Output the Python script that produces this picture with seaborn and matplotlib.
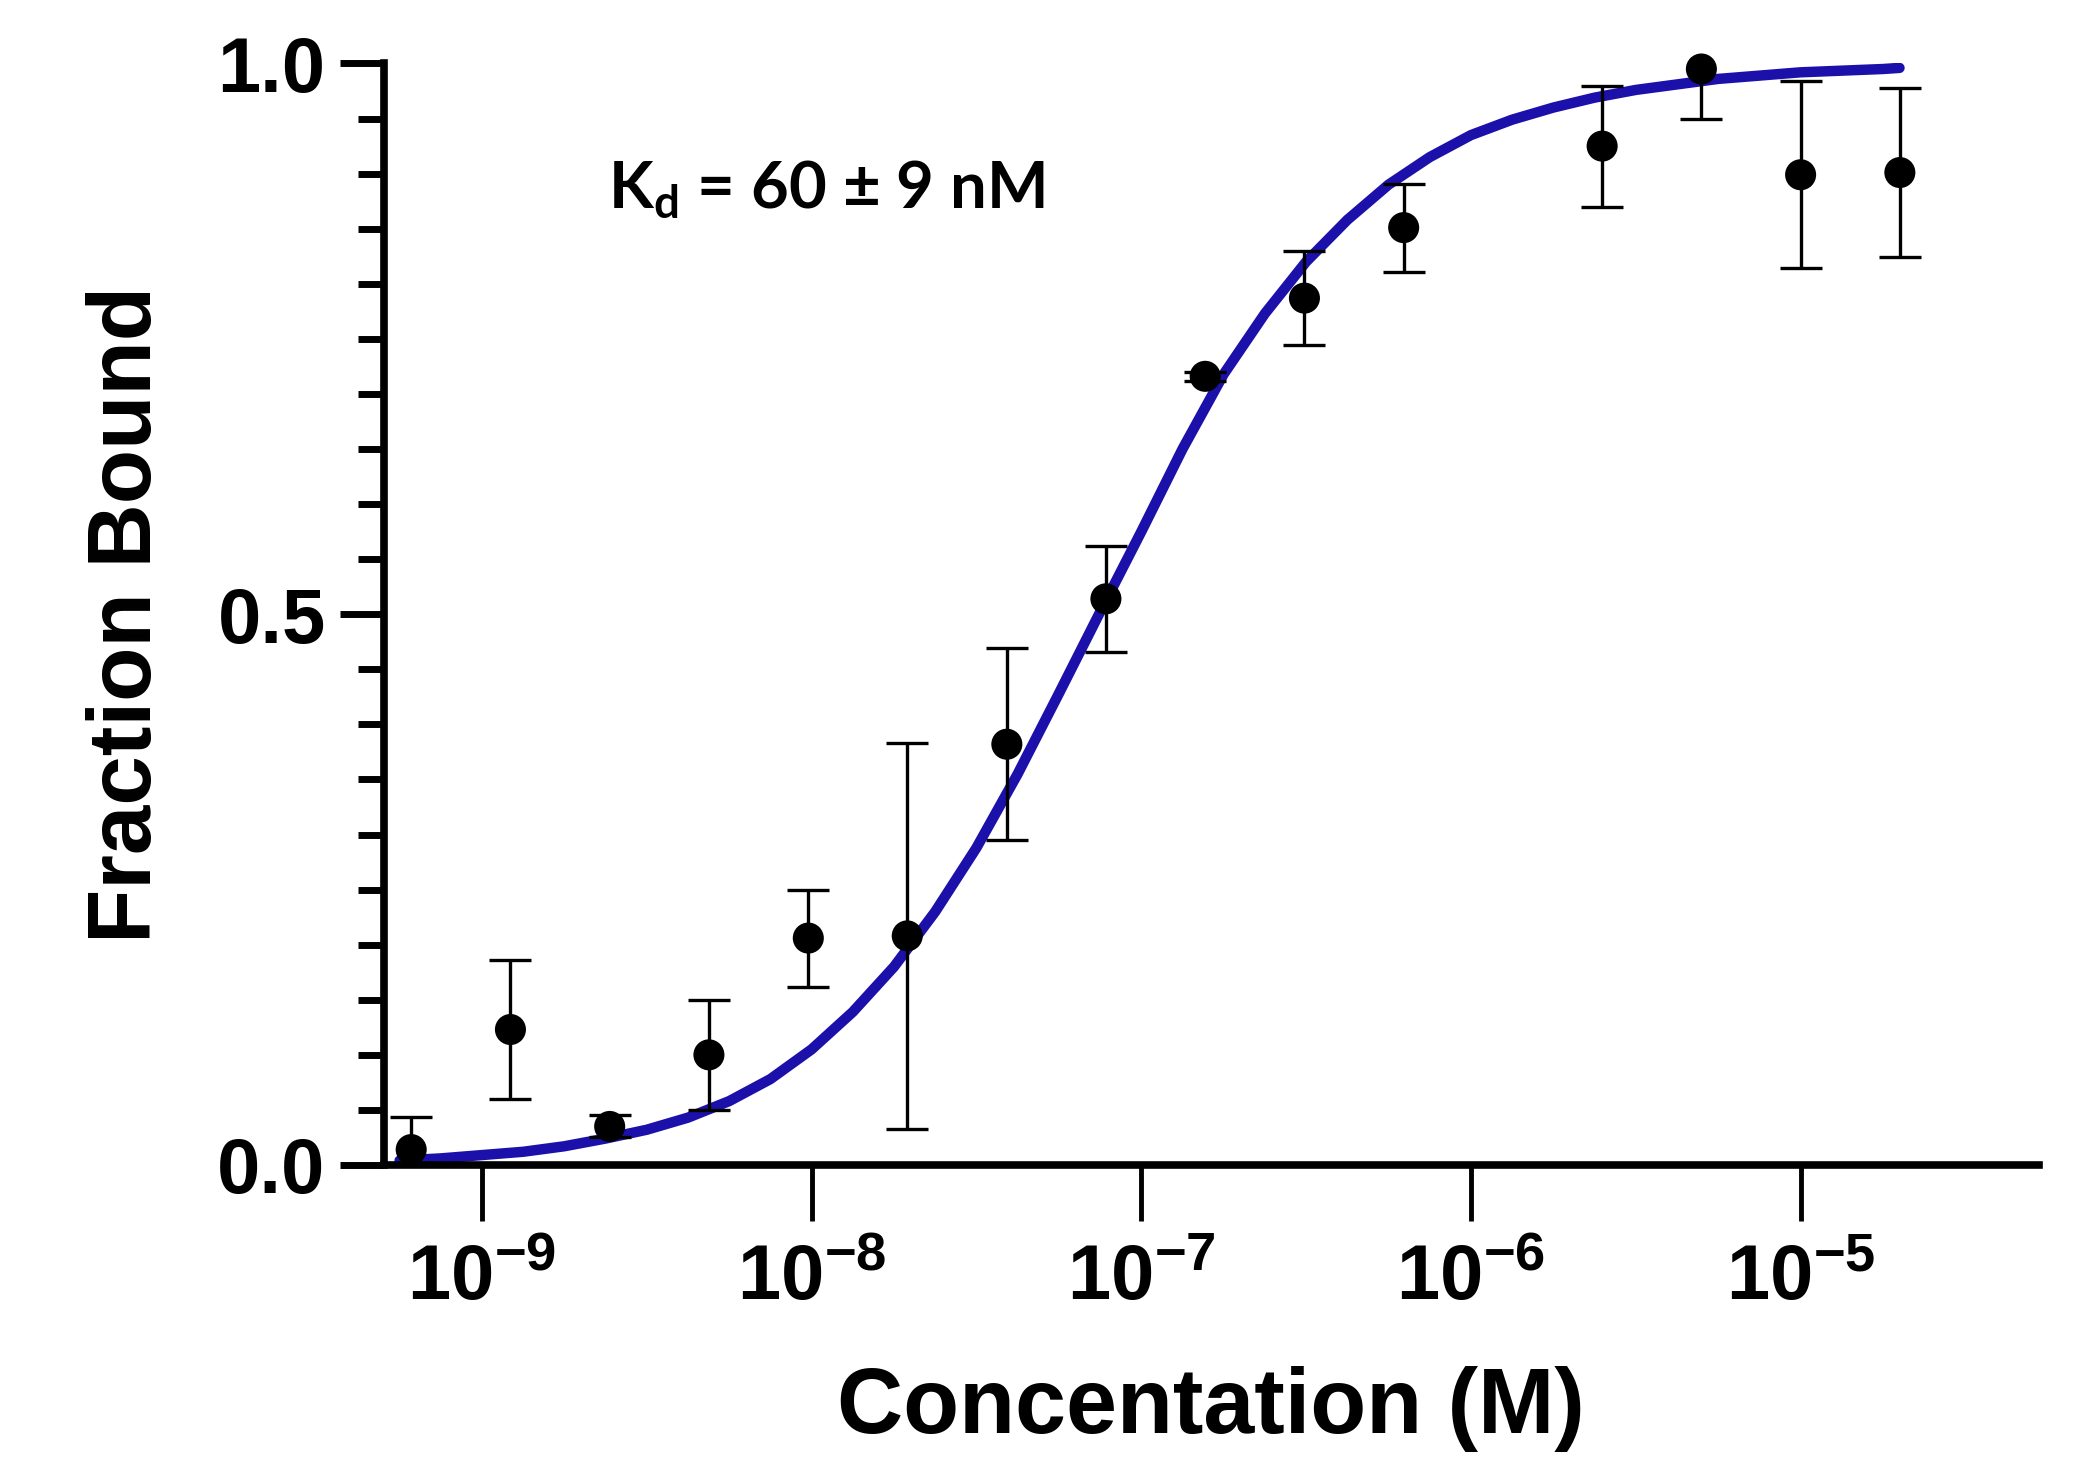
import numpy as np
import pandas as pd
import matplotlib
matplotlib.use("Agg")
import matplotlib.pyplot as plt
import seaborn as sns

# binding data: 2-fold dilution series (M), fraction bound, SD
conc = [6.10e-10, 1.22e-9, 2.44e-9, 4.88e-9, 9.77e-9, 1.95e-8, 3.91e-8, 7.81e-8,
        1.5625e-7, 3.125e-7, 6.25e-7, 2.5e-6, 5.0e-6, 1.0e-5, 2.0e-5]
frac = [0.014, 0.123, 0.035, 0.100, 0.206, 0.208, 0.382, 0.514,
        0.716, 0.787, 0.851, 0.925, 0.995, 0.899, 0.901]
sd = [0.030, 0.063, 0.010, 0.050, 0.044, 0.175, 0.087, 0.048,
      0.004, 0.043, 0.040, 0.055, 0.045, 0.085, 0.077]

# fitted curve (log10 M, fraction bound)
curve_logc = [-9.25, -9.125, -9.0, -8.875, -8.75, -8.625, -8.5, -8.375, -8.25, -8.125,
              -8.0, -7.875, -7.75, -7.625, -7.5, -7.375, -7.25, -7.125, -7.0, -6.875,
              -6.75, -6.625, -6.5, -6.375, -6.25, -6.125, -6.0, -5.875, -5.75, -5.625,
              -5.5, -5.25, -5.0, -4.75, -4.70]
curve_frac = [0.004, 0.006, 0.009, 0.012, 0.017, 0.024, 0.032, 0.043, 0.058, 0.078,
              0.105, 0.139, 0.180, 0.230, 0.288, 0.355, 0.428, 0.502, 0.575, 0.650,
              0.718, 0.773, 0.820, 0.858, 0.890, 0.915, 0.935, 0.949, 0.960, 0.969,
              0.976, 0.986, 0.992, 0.995, 0.996]

xtick_vals = [1e-9, 1e-8, 1e-7, 1e-6, 1e-5]
xtick_labels = ["10$^{-9}$", "10$^{-8}$", "10$^{-7}$", "10$^{-6}$", "10$^{-5}$"]
ytick_vals = [0.0, 0.5, 1.0]
ytick_labels = ["0.0", "0.5", "1.0"]
annot = "K$_{\\mathregular{d}}$ = 60 ± 9 nM"

df = pd.DataFrame({"conc": conc, "frac": frac, "sd": sd})
fit = pd.DataFrame({"conc": 10.0 ** np.array(curve_logc), "frac": curve_frac})

sns.set_theme(style = "ticks")
plt.rcParams["font.family"] = ["Liberation Sans", "DejaVu Sans"]
plt.rcParams["font.weight"] = "bold"
plt.rcParams["text.color"] = "black"
plt.rcParams["axes.labelcolor"] = "black"
plt.rcParams["xtick.color"] = "black"
plt.rcParams["ytick.color"] = "black"
plt.rcParams["mathtext.fontset"] = "custom"
plt.rcParams["mathtext.rm"] = "Liberation Sans:bold"
plt.rcParams["mathtext.it"] = "Liberation Sans:bold"
plt.rcParams["mathtext.bf"] = "Liberation Sans:bold"

fig = plt.figure(figsize = (20.76, 14.63), dpi = 100)
ax = fig.add_axes([0.185, 0.2037, 0.797, 0.7529])

sns.lineplot(data = fit, x = "conc", y = "frac", color = "#1c10aa",
             linewidth = 7.5, ax = ax, zorder = 2, solid_joinstyle = "round")
# error bars are clipped to the plot area, markers are not
ax.errorbar(df["conc"], df["frac"], yerr = df["sd"], fmt = "none",
            ecolor = "black", elinewidth = 2.4, capsize = 15, capthick = 2.4,
            zorder = 3)
sns.scatterplot(data = df, x = "conc", y = "frac", color = "black", s = 500,
                edgecolor = "none", ax = ax, zorder = 4, clip_on = False)

ax.set_xscale("log")
ax.set_xlim(10 ** -9.297, 10 ** -4.278)
ax.set_ylim(0, 1.0)

ax.set_xticks(xtick_vals)
ax.set_xticklabels(xtick_labels)
ax.xaxis.set_minor_locator(matplotlib.ticker.NullLocator())
ax.set_yticks(ytick_vals)
ax.set_yticklabels(ytick_labels)
ax.set_yticks(np.arange(0.05, 1.0, 0.05), minor = True)

for s in ["top", "right"]:
    ax.spines[s].set_visible(False)
for s in ["left", "bottom"]:
    ax.spines[s].set_linewidth(5.5)
    ax.spines[s].set_color("black")

ax.tick_params(axis = "x", which = "major", length = 40, width = 3.5,
               labelsize = 56, pad = 16)
ax.tick_params(axis = "y", which = "major", length = 32, width = 5,
               labelsize = 56, pad = 10)
ax.tick_params(axis = "y", which = "minor", length = 19, width = 5)

ax.set_xlabel("Concentation (M)", fontsize = 66, fontweight = "bold", labelpad = 36)
ax.set_ylabel("Fraction Bound", fontsize = 64, fontweight = "bold", labelpad = 34)

ax.text(10 ** -8.617, 0.868, annot, fontsize = 47, fontweight = "bold",
        family = ["Lato", "DejaVu Sans"], ha = "left", va = "baseline")

fig.savefig("out.png", dpi = 100, facecolor = "white")
